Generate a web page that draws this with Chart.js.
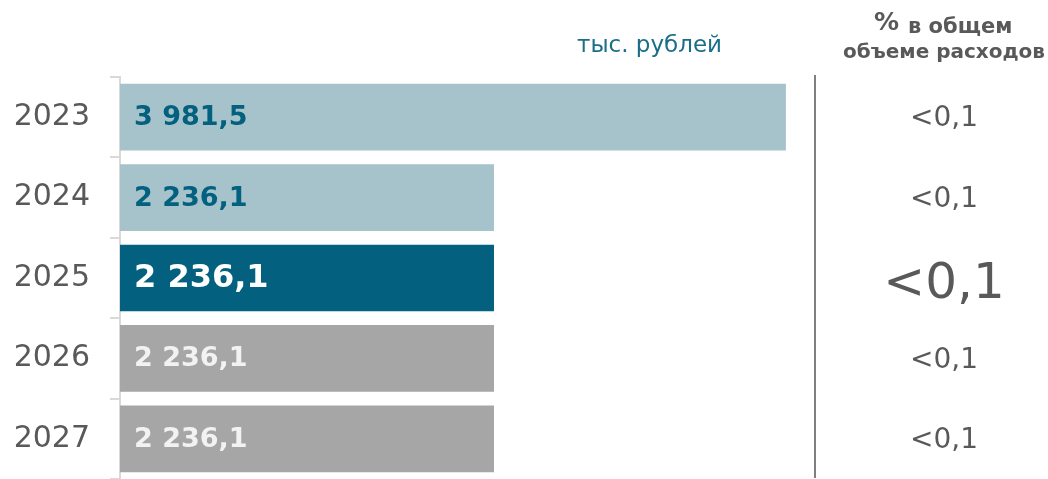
<!DOCTYPE html>
<html>
<head>
<meta charset="utf-8">
<script src="https://cdn.jsdelivr.net/npm/chart.js@4/dist/chart.umd.min.js"></script>
<style>
  html, body { margin: 0; padding: 0; background: #fff; }
  #wrap { position: relative; width: 1048px; height: 479px; }
</style>
</head>
<body>
<div id="wrap"><canvas id="budgetChart" width="1048" height="479"></canvas></div>
<script>
const years = ["2023", "2024", "2025", "2026", "2027"];
const amounts = [3981.5, 2236.1, 2236.1, 2236.1, 2236.1];
const shares = ["<0,1", "<0,1", "<0,1", "<0,1", "<0,1"];
const barColors = ["#a6c3cc", "#a6c3cc", "#03607e", "#a6a6a6", "#a6a6a6"];
const labelColors = ["#03607e", "#03607e", "#ffffff", "#f2f2f2", "#f2f2f2"];
const currentYear = 2;

const FONT = "'DejaVu Sans', sans-serif";

function fmt(v) {
  let parts = v.toFixed(1).split(".");
  let int = parts[0].replace(/\B(?=(\d{3})+(?!\d))/g, " ");
  return int + "," + parts[1];
}

// values printed inside the bars
const barLabels = {
  id: "barLabels",
  afterDatasetsDraw(chart) {
    const ctx = chart.ctx;
    const meta = chart.getDatasetMeta(0);
    ctx.save();
    ctx.textBaseline = "middle";
    ctx.textAlign = "left";
    meta.data.forEach(function (bar, i) {
      let size = i === currentYear ? 32 : 27;
      ctx.font = "bold " + size + "px " + FONT;
      ctx.fillStyle = labelColors[i];
      ctx.fillText(fmt(amounts[i]), chart.chartArea.left + 14, bar.y + 1);
    });
    ctx.restore();
  },
};

// unit caption, share column and its header
const sideColumn = {
  id: "sideColumn",
  afterDraw(chart) {
    const ctx = chart.ctx;
    const y = chart.scales.y;
    const colX = 944;
    ctx.save();

    ctx.strokeStyle = "#7f7f7f";
    ctx.lineWidth = 2;
    ctx.beginPath();
    ctx.moveTo(815, 75);
    ctx.lineTo(815, 478);
    ctx.stroke();

    ctx.fillStyle = "#1a6e87";
    ctx.font = "23px " + FONT;
    ctx.textAlign = "right";
    ctx.textBaseline = "middle";
    ctx.fillText("тыс. рублей", 722, 46);

    ctx.fillStyle = "#595959";
    ctx.textAlign = "center";
    ctx.font = "bold 20px " + FONT;
    ctx.fillText("объеме расходов", colX, 53);
    ctx.textAlign = "left";
    ctx.font = "bold 25px " + FONT;
    ctx.fillText("%", 874, 23);
    ctx.font = "bold 21px " + FONT;
    ctx.fillText("в общем", 908, 28);

    ctx.textAlign = "center";
    shares.forEach(function (s, i) {
      let big = i === currentYear;
      ctx.font = (big ? 50 : 28) + "px " + FONT;
      ctx.fillStyle = "#595959";
      ctx.fillText(s, colX, y.getPixelForValue(i) + (big ? 7 : 2));
    });
    ctx.restore();
  },
};

new Chart(document.getElementById("budgetChart"), {
  type: "bar",
  data: {
    labels: years,
    datasets: [
      {
        data: amounts,
        backgroundColor: barColors,
        borderWidth: 0,
        categoryPercentage: 1,
        barPercentage: 0.83,
      },
    ],
  },
  options: {
    indexAxis: "y",
    responsive: false,
    animation: false,
    layout: { padding: { left: 0, right: 259, top: 77, bottom: -2 } },
    plugins: { legend: { display: false }, tooltip: { enabled: false } },
    scales: {
      x: { display: false, min: 0, max: 4000 },
      y: {
        afterFit(scale) {
          scale.width = 120;
          scale.paddingTop = 0;
          scale.paddingBottom = 0;
        },
        grid: {
          offset: true,
          drawOnChartArea: false,
          drawTicks: true,
          tickLength: 10,
          color: "#d9d9d9",
          lineWidth: 2,
        },
        border: { color: "#d9d9d9", width: 2 },
        ticks: {
          padding: 20,
          color: "#595959",
          font: { family: FONT, size: 30 },
        },
      },
    },
  },
  plugins: [barLabels, sideColumn],
});
</script>
</body>
</html>
